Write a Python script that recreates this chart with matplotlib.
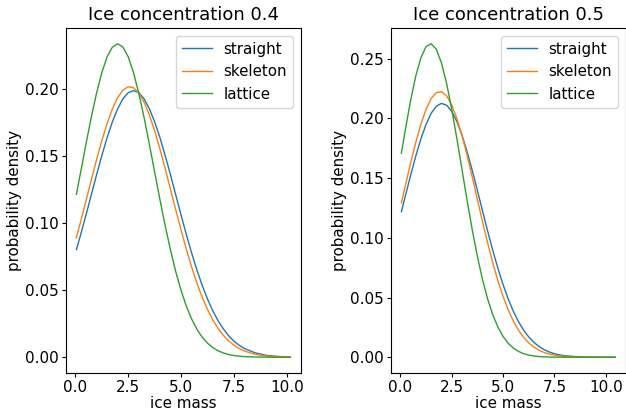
import numpy as np
import matplotlib
matplotlib.use('Agg')
import matplotlib.pyplot as plt

labels = ['straight', 'skeleton', 'lattice']

# ice mass grid
x_04 = [0.05, 0.25, 0.5, 0.75, 1.0, 1.25, 1.5, 1.75, 2.0, 2.25, 2.5, 2.75, 3.0, 3.25, 3.5, 3.75,
        4.0, 4.25, 4.5, 4.75, 5.0, 5.25, 5.5, 5.75, 6.0, 6.25, 6.5, 6.75, 7.0, 7.25, 7.5, 7.75,
        8.0, 8.5, 9.0, 9.5, 10.0, 10.15]
x_05 = [0.05, 0.25, 0.5, 0.75, 1.0, 1.25, 1.5, 1.75, 2.0, 2.25, 2.5, 2.75, 3.0, 3.25, 3.5, 3.75,
        4.0, 4.25, 4.5, 4.75, 5.0, 5.25, 5.5, 5.75, 6.0, 6.25, 6.5, 6.75, 7.0, 7.25, 7.5, 7.75,
        8.0, 8.5, 9.0, 9.5, 10.0, 10.45]

# concentration 0.4
straight_04 = [0.0804, 0.0915, 0.1060, 0.1210, 0.1360, 0.1504, 0.1639, 0.1757, 0.1855, 0.1929,
               0.1975, 0.1990, 0.1975, 0.1929, 0.1855, 0.1757, 0.1639, 0.1504, 0.1360, 0.1210,
               0.1060, 0.0915, 0.0777, 0.0650, 0.0535, 0.0434, 0.0346, 0.0272, 0.0211, 0.0160,
               0.0120, 0.0089, 0.0065, 0.0033, 0.0015, 0.0007, 0.0003, 0.0002]
skeleton_04 = [0.0892, 0.1013, 0.1166, 0.1321, 0.1473, 0.1616, 0.1744, 0.1853, 0.1938, 0.1994,
               0.2019, 0.2012, 0.1973, 0.1904, 0.1808, 0.1690, 0.1554, 0.1407, 0.1253, 0.1098,
               0.0948, 0.0805, 0.0672, 0.0552, 0.0447, 0.0356, 0.0279, 0.0215, 0.0163, 0.0122,
               0.0090, 0.0065, 0.0046, 0.0022, 0.0010, 0.0004, 0.0002, 0.0001]
lattice_04 = [0.1217, 0.1382, 0.1589, 0.1789, 0.1970, 0.2124, 0.2242, 0.2315, 0.2340, 0.2315,
              0.2242, 0.2124, 0.1970, 0.1789, 0.1589, 0.1382, 0.1176, 0.0980, 0.0799, 0.0637,
              0.0498, 0.0380, 0.0285, 0.0208, 0.0149, 0.0105, 0.0072, 0.0048, 0.0032, 0.0020,
              0.0013, 0.0008, 0.0005, 0.0002, 0.0001, 0.0, 0.0, 0.0]

# concentration 0.5
straight_05 = [0.1218, 0.1355, 0.1524, 0.1684, 0.1828, 0.1949, 0.2042, 0.2101, 0.2125, 0.2110,
               0.2059, 0.1974, 0.1859, 0.1720, 0.1564, 0.1396, 0.1225, 0.1056, 0.0894, 0.0744,
               0.0608, 0.0488, 0.0385, 0.0298, 0.0227, 0.0170, 0.0125, 0.0090, 0.0064, 0.0044,
               0.0030, 0.0020, 0.0013, 0.0006, 0.0002, 0.0001, 0.0, 0.0]
skeleton_05 = [0.1292, 0.1442, 0.1626, 0.1798, 0.1951, 0.2075, 0.2165, 0.2215, 0.2223, 0.2188,
               0.2112, 0.1999, 0.1856, 0.1690, 0.1509, 0.1322, 0.1135, 0.0957, 0.0790, 0.0640,
               0.0509, 0.0397, 0.0303, 0.0227, 0.0167, 0.0120, 0.0085, 0.0059, 0.0040, 0.0027,
               0.0018, 0.0011, 0.0007, 0.0003, 0.0001, 0.0, 0.0, 0.0]
lattice_05 = [0.1707, 0.1912, 0.2150, 0.2354, 0.2507, 0.2600, 0.2624, 0.2578, 0.2464, 0.2293,
              0.2077, 0.1831, 0.1571, 0.1312, 0.1067, 0.0844, 0.0650, 0.0487, 0.0355, 0.0252,
              0.0174, 0.0117, 0.0077, 0.0049, 0.0030, 0.0018, 0.0011, 0.0006, 0.0003, 0.0002,
              0.0001, 0.0001, 0.0, 0.0, 0.0, 0.0, 0.0, 0.0]

panels = [
    ('Ice concentration 0.4', x_04, [straight_04, skeleton_04, lattice_04]),
    ('Ice concentration 0.5', x_05, [straight_05, skeleton_05, lattice_05]),
]

fig, axes = plt.subplots(1, 2, figsize=(6.26, 4.13), dpi=100)
fig.subplots_adjust(left=0.105, right=0.9995, top=0.932, bottom=0.097, wspace=0.383)

for ax, (title, x, series) in zip(axes, panels):
    for lab, y in zip(labels, series):
        ax.plot(x, y, label=lab, linewidth=1.0)
    ax.set_title(title, fontsize=13)
    ax.set_xlabel('ice mass', fontsize=10.9, labelpad=1)
    ax.set_ylabel('probability density', fontsize=10.9, labelpad=2)
    ax.tick_params(labelsize=11, length=3, pad=2)
    ax.legend(fontsize=10.8, loc='upper right')

plt.savefig('out.png', dpi=100)
